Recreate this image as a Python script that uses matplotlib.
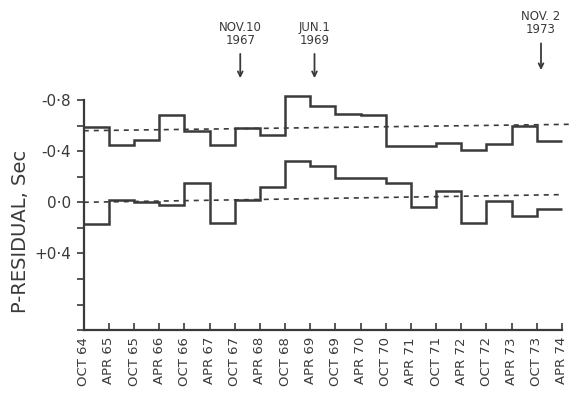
import numpy as np
import matplotlib.pyplot as plt
from matplotlib.ticker import MultipleLocator

# half-year bins from Oct 64 to Apr 74
tick_labels = ['OCT 64', 'APR 65', 'OCT 65', 'APR 66', 'OCT 66', 'APR 67', 'OCT 67',
               'APR 68', 'OCT 68', 'APR 69', 'OCT 69', 'APR 70', 'OCT 70', 'APR 71',
               'OCT 71', 'APR 72', 'OCT 72', 'APR 73', 'OCT 73', 'APR 74']

# residuals per half-year interval (sec)
upper = [-0.59, -0.45, -0.49, -0.68, -0.56, -0.45, -0.58, -0.53, -0.83, -0.75,
         -0.69, -0.68, -0.44, -0.44, -0.46, -0.41, -0.455, -0.60, -0.48]
lower = [0.17, -0.02, 0.00, 0.02, -0.15, 0.16, -0.02, -0.12, -0.32, -0.28,
         -0.19, -0.19, -0.15, 0.04, -0.09, 0.16, -0.01, 0.11, 0.05]

# dashed trend lines (start, end) and their x extents
upper_trend = [-0.56, -0.61]
lower_trend = [0.00, -0.06]
upper_trend_x = [0, 19.3]
lower_trend_x = [0, 19.05]

# events: (label, months after Oct 1964)
events = [('NOV.10\n1967', 37.3), ('JUN.1\n1969', 55.0), ('NOV. 2\n1973', 109.0)]

ink = '#3a3a3a'
plt.rcParams['font.family'] = 'DejaVu Sans'

fig = plt.figure(figsize=(5.86, 4.05), dpi=100)
ax = fig.add_axes([0.143, 0.185, 0.816, 0.568])

edges = np.arange(len(tick_labels))
ax.stairs(upper, edges, baseline=None, color=ink, lw=1.8, clip_on=False)
ax.stairs(lower, edges, baseline=None, color=ink, lw=1.8, clip_on=False)
ax.plot(upper_trend_x, upper_trend, color=ink, lw=1.2, dashes=(3, 3), clip_on=False)
ax.plot(lower_trend_x, lower_trend, color=ink, lw=1.2, dashes=(3, 3), clip_on=False)

ax.set_xlim(0, 19)
ax.set_ylim(1.0, -0.8)
for s in ['top', 'right']:
    ax.spines[s].set_visible(False)
for s in ['left', 'bottom']:
    ax.spines[s].set_color(ink)
    ax.spines[s].set_linewidth(1.6)

ax.set_xticks(edges)
ax.set_xticklabels(tick_labels, rotation=90, fontsize=9.5, color=ink)
ax.tick_params(axis='x', direction='in', length=5, width=1.2, color=ink, pad=5)

ax.set_yticks([-0.8, -0.4, 0.0, 0.4])
ax.set_yticklabels(['-0·8', '-0·4', '0·0', '+0·4'], fontsize=11, color=ink)
ax.yaxis.set_minor_locator(MultipleLocator(0.2))
ax.tick_params(axis='y', which='both', direction='out', length=5, width=1.2,
               color=ink, pad=4)

ax.set_ylabel('P-RESIDUAL, Sec', fontsize=14, color=ink)
ax.yaxis.set_label_coords(-0.112, 0.43)

# text bottom / arrow tip heights in figure fraction
text_y = [0.884, 0.884, 0.91]
tip_y = [0.807, 0.807, 0.827]
for (label, months), ty, ay in zip(events, text_y, tip_y):
    xpos = months / 6.0
    ax.annotate(label, xy=(xpos, ay), xycoords=('data', 'figure fraction'),
                xytext=(xpos, ty), textcoords=('data', 'figure fraction'),
                ha='center', va='bottom', fontsize=8.5, color=ink, linespacing=1.0,
                arrowprops=dict(arrowstyle='->', color=ink, lw=1.3,
                                shrinkA=3, shrinkB=0))

fig.savefig('out.png', dpi=100)
